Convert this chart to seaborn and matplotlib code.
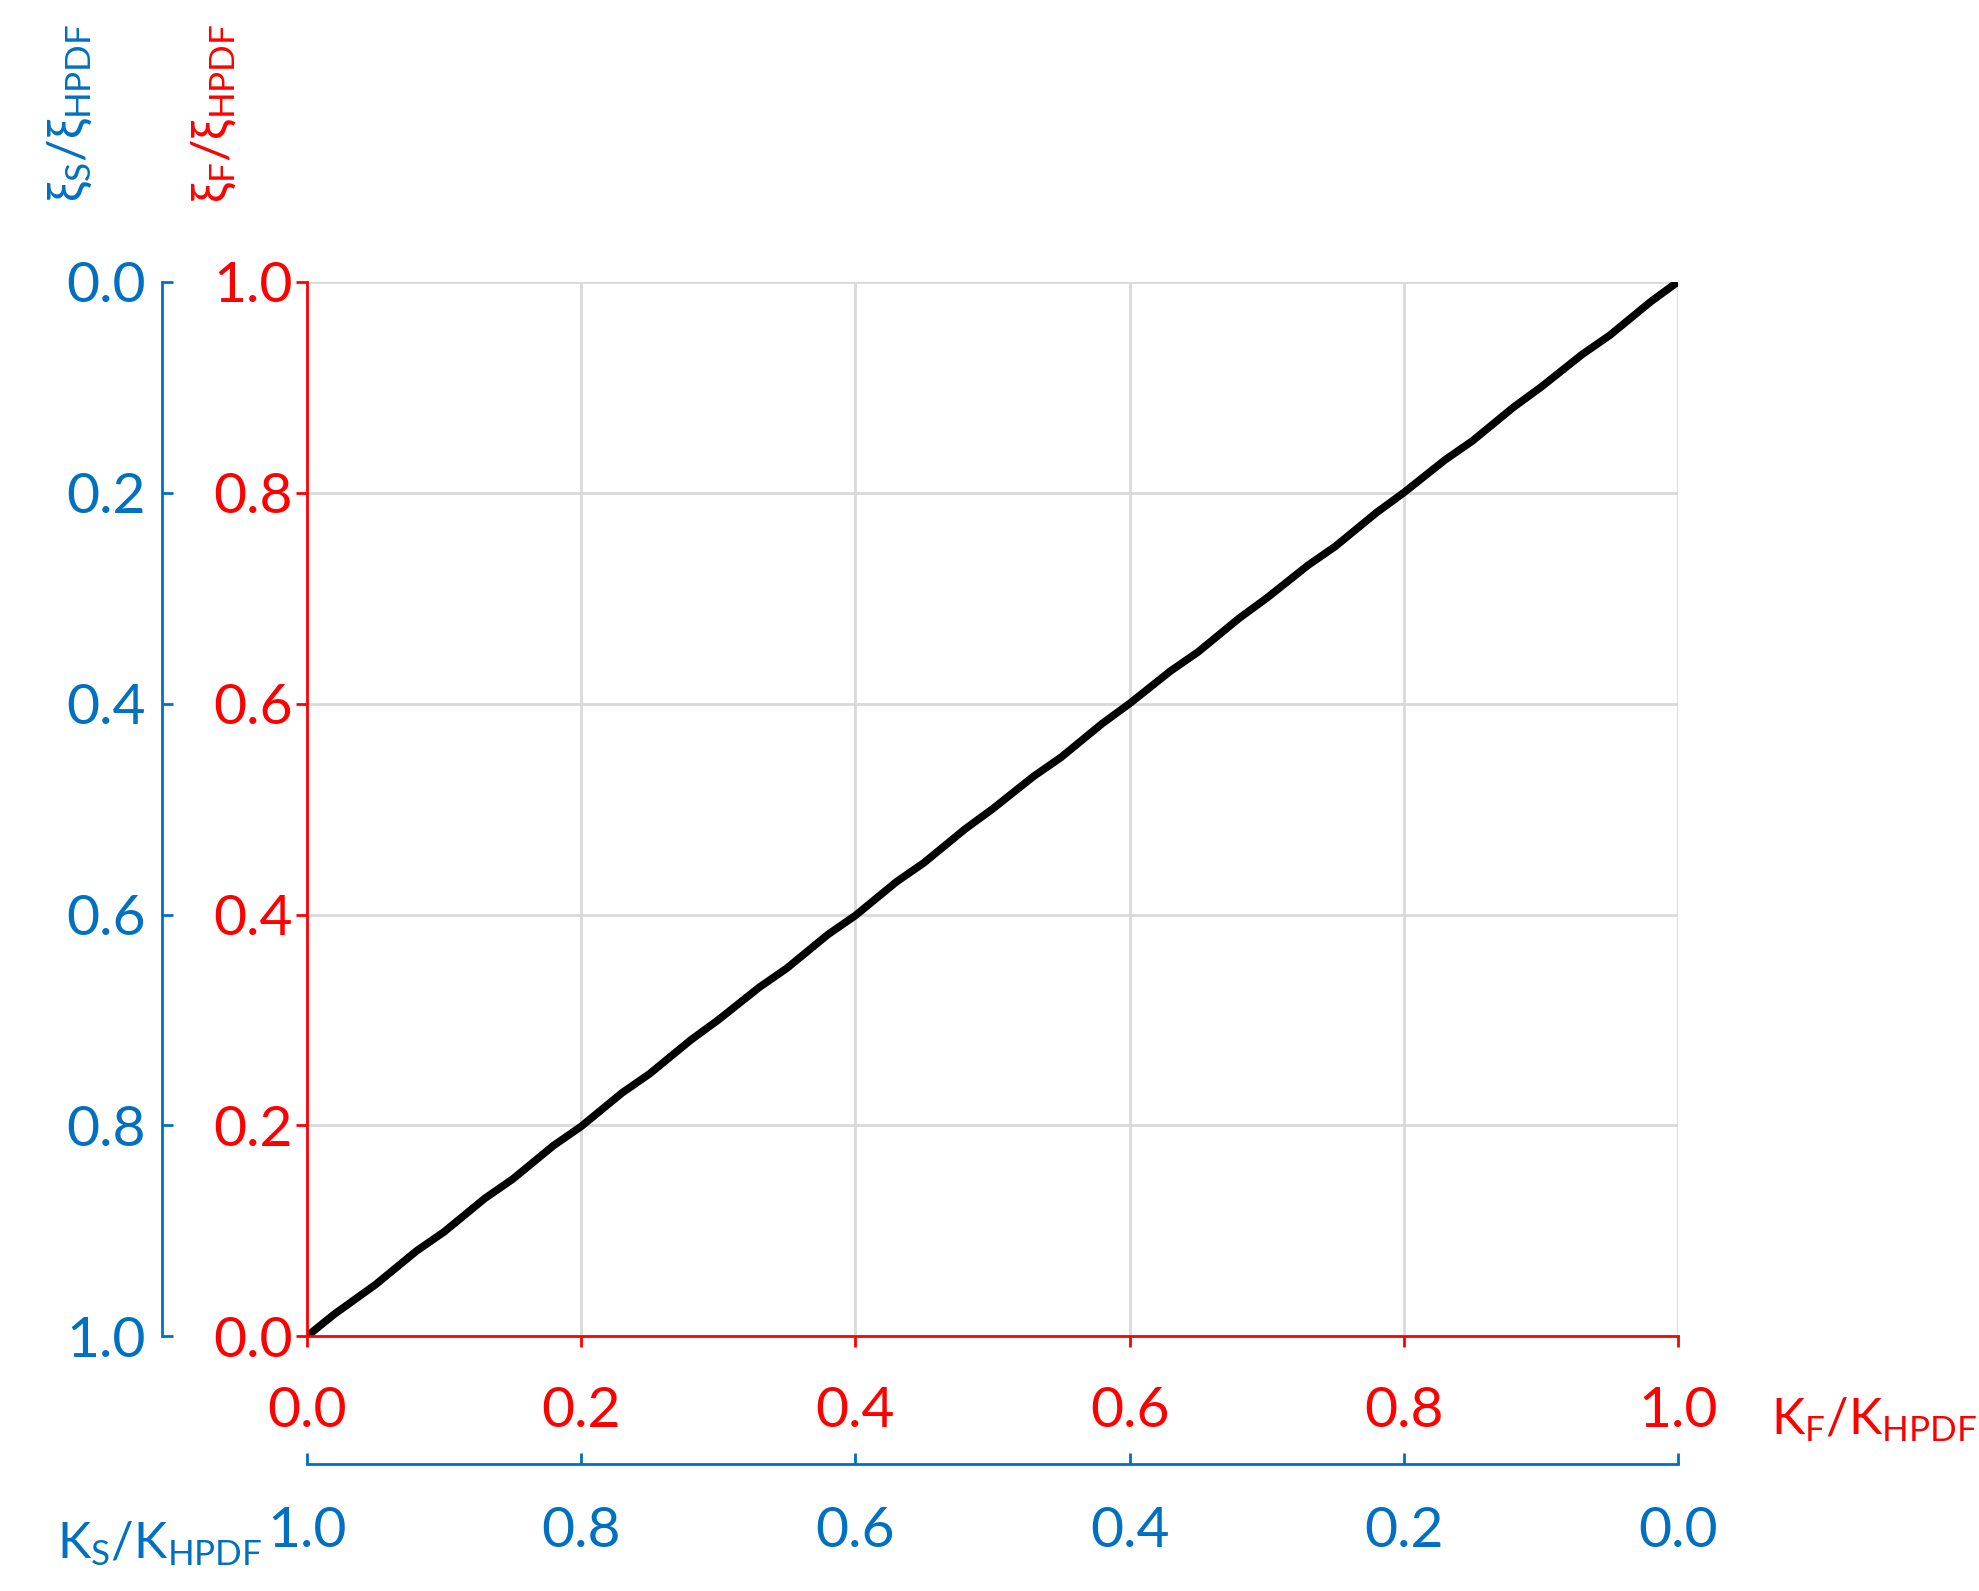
import matplotlib
matplotlib.use("Agg")
import matplotlib.pyplot as plt
import seaborn as sns

# The curve is nearly the diagonal, slightly wavy
kf_ratio = [0.00, 0.02, 0.05, 0.08, 0.10, 0.13, 0.15, 0.18, 0.20, 0.23, 0.25, 0.28,
            0.30, 0.33, 0.35, 0.38, 0.40, 0.43, 0.45, 0.48, 0.50, 0.53, 0.55, 0.58,
            0.60, 0.63, 0.65, 0.68, 0.70, 0.73, 0.75, 0.78, 0.80, 0.83, 0.85, 0.88,
            0.90, 0.93, 0.95, 0.98, 1.00]
xif_ratio = [0.000, 0.021, 0.049, 0.081, 0.099, 0.131, 0.149, 0.181, 0.199, 0.231, 0.249, 0.281,
             0.300, 0.331, 0.349, 0.381, 0.399, 0.431, 0.449, 0.481, 0.500, 0.531, 0.549, 0.581,
             0.600, 0.631, 0.649, 0.681, 0.700, 0.731, 0.749, 0.781, 0.800, 0.831, 0.849, 0.881,
             0.900, 0.931, 0.949, 0.981, 1.000]
ticks = [0.0, 0.2, 0.4, 0.6, 0.8, 1.0]
tick_labels = ["0.0", "0.2", "0.4", "0.6", "0.8", "1.0"]

sns.set_style("white")
plt.rcParams['font.family'] = ['Lato', 'DejaVu Sans']
plt.rcParams['mathtext.fontset'] = 'custom'
plt.rcParams['mathtext.rm'] = 'Lato'
plt.rcParams['mathtext.it'] = 'Lato'

RED = "#ff0000"
BLUE = "#0070c0"
FS = 41
LFS = 36

fig = plt.figure(figsize=(19.79, 15.91), dpi=100)
ax = fig.add_axes([0.155, 0.160, 0.693, 0.663])
sns.lineplot(x=kf_ratio, y=xif_ratio, ax=ax, color="black", lw=5.5)
ax.set_xlim(0, 1)
ax.set_ylim(0, 1)
ax.set_xticks(ticks)
ax.set_yticks(ticks)
ax.set_xticklabels(tick_labels, fontsize=FS)
ax.set_yticklabels(tick_labels, fontsize=FS)
ax.grid(True, color="#d9d9d9", lw=2)
for s in ["top", "right"]:
    ax.spines[s].set_visible(False)
for s in ["left", "bottom"]:
    ax.spines[s].set_color(RED)
    ax.spines[s].set_linewidth(2)
ax.tick_params(axis="x", colors=RED, direction="out", length=8, width=2, pad=28, labelsize=FS)
ax.tick_params(axis="y", colors=RED, direction="out", length=8, width=2, pad=2, labelsize=FS)

# blue secondary y axis (reversed)
ay = ax.twinx()
ay.set_ylim(1, 0)
ay.set_yticks(ticks)
ay.yaxis.set_ticks_position("left")
ay.spines["left"].set_position(("outward", 104))
ay.spines["left"].set_color(BLUE)
ay.spines["left"].set_linewidth(2)
for s in ["top", "right", "bottom"]:
    ay.spines[s].set_visible(False)
ay.set_yticklabels(tick_labels, fontsize=FS)
ay.tick_params(axis="y", colors=BLUE, direction="in", length=8, width=2, pad=12, labelsize=FS)

# blue secondary x axis (reversed)
axx = ax.twiny()
axx.set_xlim(1, 0)
axx.set_xticks(ticks)
axx.xaxis.set_ticks_position("bottom")
axx.spines["bottom"].set_position(("outward", 92))
axx.spines["bottom"].set_color(BLUE)
axx.spines["bottom"].set_linewidth(2)
for s in ["top", "right", "left"]:
    axx.spines[s].set_visible(False)
axx.set_xticklabels(tick_labels, fontsize=FS)
axx.tick_params(axis="x", colors=BLUE, direction="in", length=8, width=2, pad=30, labelsize=FS)

# axis titles
fig.text(0.895, 0.108, r"K$_{\mathrm{F}}$/K$_{\mathrm{HPDF}}$", color=RED, fontsize=LFS, ha="left", va="center")
fig.text(0.029, 0.030, r"K$_{\mathrm{S}}$/K$_{\mathrm{HPDF}}$", color=BLUE, fontsize=LFS, ha="left", va="center")
fig.text(0.035, 0.985, r"ξ$_{\mathrm{S}}$/ξ$_{\mathrm{HPDF}}$", color=BLUE, fontsize=LFS, rotation=90, ha="center", va="top")
fig.text(0.108, 0.985, r"ξ$_{\mathrm{F}}$/ξ$_{\mathrm{HPDF}}$", color=RED, fontsize=LFS, rotation=90, ha="center", va="top")

fig.savefig("out.png", dpi=100)
